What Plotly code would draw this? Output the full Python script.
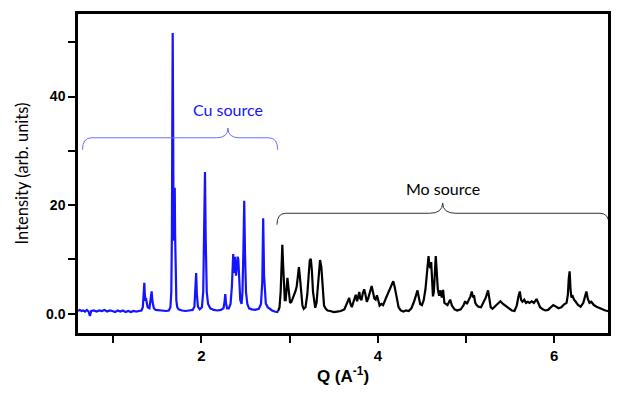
import plotly.graph_objects as go

# ---- data ----
cu_q = [0.60, 0.62, 0.64, 0.66, 0.68, 0.70, 0.72, 0.735, 0.75, 0.78, 0.81, 0.84, 0.87, 0.90,
        0.93, 0.96, 0.99, 1.02, 1.05, 1.08, 1.11, 1.14, 1.17, 1.20, 1.23, 1.26, 1.29, 1.32,
        1.335, 1.345, 1.352, 1.358, 1.364, 1.370, 1.378, 1.39, 1.41, 1.425, 1.435, 1.445,
        1.46, 1.48, 1.52, 1.56, 1.60, 1.63, 1.648, 1.658, 1.665, 1.670, 1.674, 1.678, 1.684,
        1.690, 1.694, 1.697, 1.701, 1.707, 1.715, 1.725, 1.74, 1.78, 1.82, 1.86, 1.90, 1.92,
        1.932, 1.94, 1.948, 1.96, 1.98, 2.005, 2.02, 2.032, 2.04, 2.048, 2.06, 2.075, 2.10,
        2.14, 2.18, 2.22, 2.25, 2.262, 2.27, 2.278, 2.29, 2.31, 2.33, 2.345, 2.355, 2.36,
        2.367, 2.372, 2.378, 2.385, 2.392, 2.40, 2.41, 2.418, 2.428, 2.44, 2.455, 2.465,
        2.476, 2.485, 2.494, 2.505, 2.52, 2.54, 2.57, 2.61, 2.65, 2.675, 2.69, 2.70, 2.71,
        2.72, 2.73, 2.74, 2.75, 2.77, 2.80, 2.83, 2.86, 2.87]
cu_i = [0.5, 0.7, 0.5, 0.6, 0.4, 0.7, 0.4, -0.4, 0.5, 0.6, 0.4, 0.6, 0.5, 0.7,
        0.4, 0.6, 0.5, 0.3, 0.6, 0.4, 0.6, 0.3, 0.5, 0.3, 0.5, 0.4, 0.5, 0.6,
        1.2, 4.0, 5.7, 3.5, 2.4, 2.9, 1.8, 1.2, 1.0, 2.5, 4.1, 2.2,
        1.0, 0.7, 0.6, 0.5, 0.5, 0.6, 1.2, 4.0, 15.0, 38.0, 51.7, 38.0, 14.0,
        13.5, 20.0, 23.2, 15.0, 6.0, 2.5, 1.2, 0.8, 0.6, 0.5, 0.6, 0.7, 1.3,
        4.0, 7.5, 3.5, 1.3, 0.8, 1.2, 4.0, 15.0, 26.1, 14.0, 4.0, 1.8, 1.0,
        0.7, 0.6, 0.7, 1.0, 2.2, 3.6, 2.0, 1.0, 1.0, 1.8, 5.0, 10.0, 11.0,
        9.0, 7.5, 10.5, 8.0, 7.0, 8.5, 10.5, 10.0, 5.0, 2.5, 1.8, 4.0,
        12.0, 20.8, 11.0, 4.0, 1.8, 1.0, 0.8, 0.7, 0.9, 1.8, 6.0, 17.6, 7.0,
        3.0, 1.8, 1.6, 1.2, 1.0, 0.6, 0.4, 0.3, 0.5]

mo_q = [2.87, 2.885, 2.898, 2.908, 2.917, 2.926, 2.935, 2.945, 2.955, 2.965, 2.975, 2.985,
        2.995, 3.005, 3.02, 3.04, 3.065, 3.08, 3.095, 3.105, 3.115, 3.13, 3.145, 3.16, 3.18,
        3.20, 3.215, 3.228, 3.24, 3.252, 3.265, 3.28, 3.29, 3.305, 3.32, 3.335, 3.345, 3.36,
        3.375, 3.39, 3.41, 3.43, 3.46, 3.50, 3.54, 3.58, 3.62, 3.65, 3.675, 3.69, 3.705,
        3.72, 3.735, 3.75, 3.765, 3.78, 3.79, 3.80, 3.815, 3.83, 3.845, 3.86, 3.875, 3.89,
        3.91, 3.93, 3.945, 3.96, 3.975, 3.99, 4.005, 4.02, 4.04, 4.06, 4.09, 4.12, 4.145,
        4.165, 4.175, 4.19, 4.205, 4.22, 4.235, 4.26, 4.29, 4.32, 4.35, 4.38, 4.41, 4.435,
        4.45, 4.465, 4.48, 4.50, 4.52, 4.54, 4.555, 4.565, 4.575, 4.585, 4.595, 4.605, 4.615,
        4.625, 4.635, 4.648, 4.657, 4.667, 4.68, 4.695, 4.71, 4.725, 4.74, 4.755, 4.77, 4.79,
        4.82, 4.84, 4.87, 4.90, 4.94, 4.97, 4.99, 5.01, 5.03, 5.05, 5.065, 5.08, 5.09, 5.105,
        5.12, 5.14, 5.17, 5.20, 5.225, 5.25, 5.265, 5.28, 5.30, 5.33, 5.36, 5.39, 5.42, 5.45,
        5.48, 5.52, 5.55, 5.575, 5.595, 5.61, 5.625, 5.64, 5.66, 5.68, 5.70, 5.72, 5.745,
        5.77, 5.80, 5.82, 5.84, 5.87, 5.90, 5.93, 5.96, 5.99, 6.02, 6.05, 6.08, 6.11, 6.14,
        6.155, 6.165, 6.175, 6.185, 6.195, 6.21, 6.225, 6.245, 6.27, 6.30, 6.33, 6.35, 6.365,
        6.38, 6.40, 6.42, 6.45, 6.48, 6.52, 6.55, 6.58, 6.61, 6.62]
mo_i = [0.5, 1.2, 4.0, 9.0, 12.7, 9.0, 4.5, 2.5, 2.5, 4.5, 6.6, 5.0,
        3.0, 2.0, 2.2, 3.0, 4.1, 5.0, 7.5, 8.6, 7.0, 3.5, 1.5, 0.9, 1.2,
        3.5, 7.5, 9.8, 10.1, 8.0, 4.0, 1.5, 1.1, 2.0, 5.5, 9.0, 9.9, 8.5,
        4.0, 1.5, 0.9, 0.6, 0.5, 0.3, 0.4, 0.5, 0.8, 1.8, 2.9, 1.8, 1.2,
        2.0, 3.0, 3.5, 2.3, 3.3, 4.0, 2.8, 2.5, 3.8, 4.5, 3.5, 2.2, 2.8,
        4.0, 5.1, 4.0, 2.8, 2.6, 3.4, 2.5, 1.5, 1.8, 1.6, 2.8, 4.0, 4.8,
        5.5, 6.0, 5.0, 4.0, 2.5, 1.2, 0.6, 0.4, 0.6, 0.5, 1.0, 2.2, 3.6,
        4.3, 3.0, 1.8, 1.6, 2.5, 4.5, 7.0, 9.5, 10.6, 8.8, 8.4, 9.5, 6.0,
        3.2, 4.0, 8.0, 10.6, 8.0, 4.5, 3.3, 4.3, 3.0, 4.4, 2.0, 1.8, 1.6,
        2.6, 1.5, 0.8, 0.6, 0.8, 1.5, 2.3, 1.8, 2.5, 3.2, 4.1, 3.0, 3.4, 2.0,
        1.6, 1.3, 1.2, 2.2, 3.0, 4.3, 2.2, 1.2, 0.9, 1.4, 1.8, 2.3, 1.8, 1.4,
        1.0, 0.6, 0.5, 1.5, 3.2, 4.1, 2.5, 2.2, 2.6, 2.0, 2.2, 2.0, 2.3,
        2.0, 2.7, 2.0, 1.2, 0.8, 0.6, 0.7, 1.2, 1.6, 1.3, 1.0, 1.2, 1.7, 2.0,
        3.5, 6.5, 7.8, 4.5, 3.0, 3.2, 2.6, 2.2, 1.6, 1.3, 2.0, 3.2, 4.1,
        2.8, 2.0, 2.2, 1.6, 1.3, 1.0, 0.8, 0.6, 0.5, 0.4]

x_tickvals = [2, 4, 6]
x_ticktext = ["2", "4", "6"]
x_minor_vals = [1, 3, 5]
y_tickvals = [0, 20, 40]
y_ticktext = ["0.0", "20", "40"]
y_minor_vals = [10, 30, 50]

# brace geometry (data coords): x0, x1, centre, line level, end level, cusp level
cu_brace = dict(x0=0.651, x1=2.864, xc=2.30, yl=32.4, ye=30.2, yc=34.2, dx=0.10, dc=0.13)
mo_brace = dict(x0=2.856, x1=6.62, xc=4.735, yl=18.5, ye=16.4, yc=20.4, dx=0.10, dc=0.15)


def brace_path(b):
    x0, x1, xc, yl, ye, yc, dx, dc = (b[k] for k in ("x0", "x1", "xc", "yl", "ye", "yc", "dx", "dc"))
    return (f"M {x0},{ye} Q {x0},{yl} {x0+dx},{yl} L {xc-dc},{yl} "
            f"Q {xc},{yl} {xc},{yc} Q {xc},{yl} {xc+dc},{yl} "
            f"L {x1-dx},{yl} Q {x1},{yl} {x1},{ye}")


fig = go.Figure()
fig.add_trace(go.Scatter(x=cu_q, y=cu_i, mode="lines",
                         line=dict(color="#1414ff", width=2.2), showlegend=False))
fig.add_trace(go.Scatter(x=mo_q, y=mo_i, mode="lines",
                         line=dict(color="black", width=2.2), showlegend=False))

fig.add_shape(type="path", path=brace_path(cu_brace), xref="x", yref="y",
              line=dict(color="#6b6bff", width=1))
fig.add_shape(type="path", path=brace_path(mo_brace), xref="x", yref="y",
              line=dict(color="#333333", width=1))

fig.add_annotation(x=2.30, y=37.6, text="Cu source", showarrow=False, xref="x", yref="y",
                   font=dict(family="Lato", size=16, color="#1414ff"))
fig.add_annotation(x=4.735, y=23.0, text="Mo source", showarrow=False, xref="x", yref="y",
                   font=dict(family="Lato", size=16, color="black"))

fig.update_layout(
    width=620, height=395,
    margin=dict(l=78, r=12, t=14, b=62),
    paper_bgcolor="white", plot_bgcolor="white",
    xaxis=dict(range=[0.6, 6.61], tickmode="array", tickvals=x_tickvals, ticktext=x_ticktext,
               ticks="outside", ticklen=7, tickwidth=2, tickcolor="black",
               minor=dict(tickmode="array", tickvals=x_minor_vals, ticks="outside",
                          ticklen=7, tickwidth=2, tickcolor="black", showgrid=False),
               showline=True, linewidth=2.5, linecolor="black", mirror=True,
               showgrid=False, zeroline=False, automargin=False,
               tickfont=dict(family="Liberation Sans", size=15, color="black", weight="bold"),
               title=dict(text="Q (A<sup>-1</sup>)", standoff=8,
                          font=dict(family="Liberation Sans", size=17, color="black", weight="bold"))),
    yaxis=dict(range=[-3.55, 55.2], tickmode="array", tickvals=y_tickvals, ticktext=y_ticktext,
               ticks="outside", ticklen=7, tickwidth=2, tickcolor="black",
               minor=dict(tickmode="array", tickvals=y_minor_vals, ticks="outside",
                          ticklen=7, tickwidth=2, tickcolor="black", showgrid=False),
               showline=True, linewidth=2.5, linecolor="black", mirror=True,
               showgrid=False, zeroline=False, automargin=False,
               tickfont=dict(family="Liberation Sans", size=14, color="black", weight="bold"),
               title=dict(text="Intensity (arb. units)", standoff=14,
                          font=dict(family="Lato", size=16.5, color="black"))),
)

fig.write_html("out.html", config={"displayModeBar": False},
               post_script="document.body.style.margin='0px';")
